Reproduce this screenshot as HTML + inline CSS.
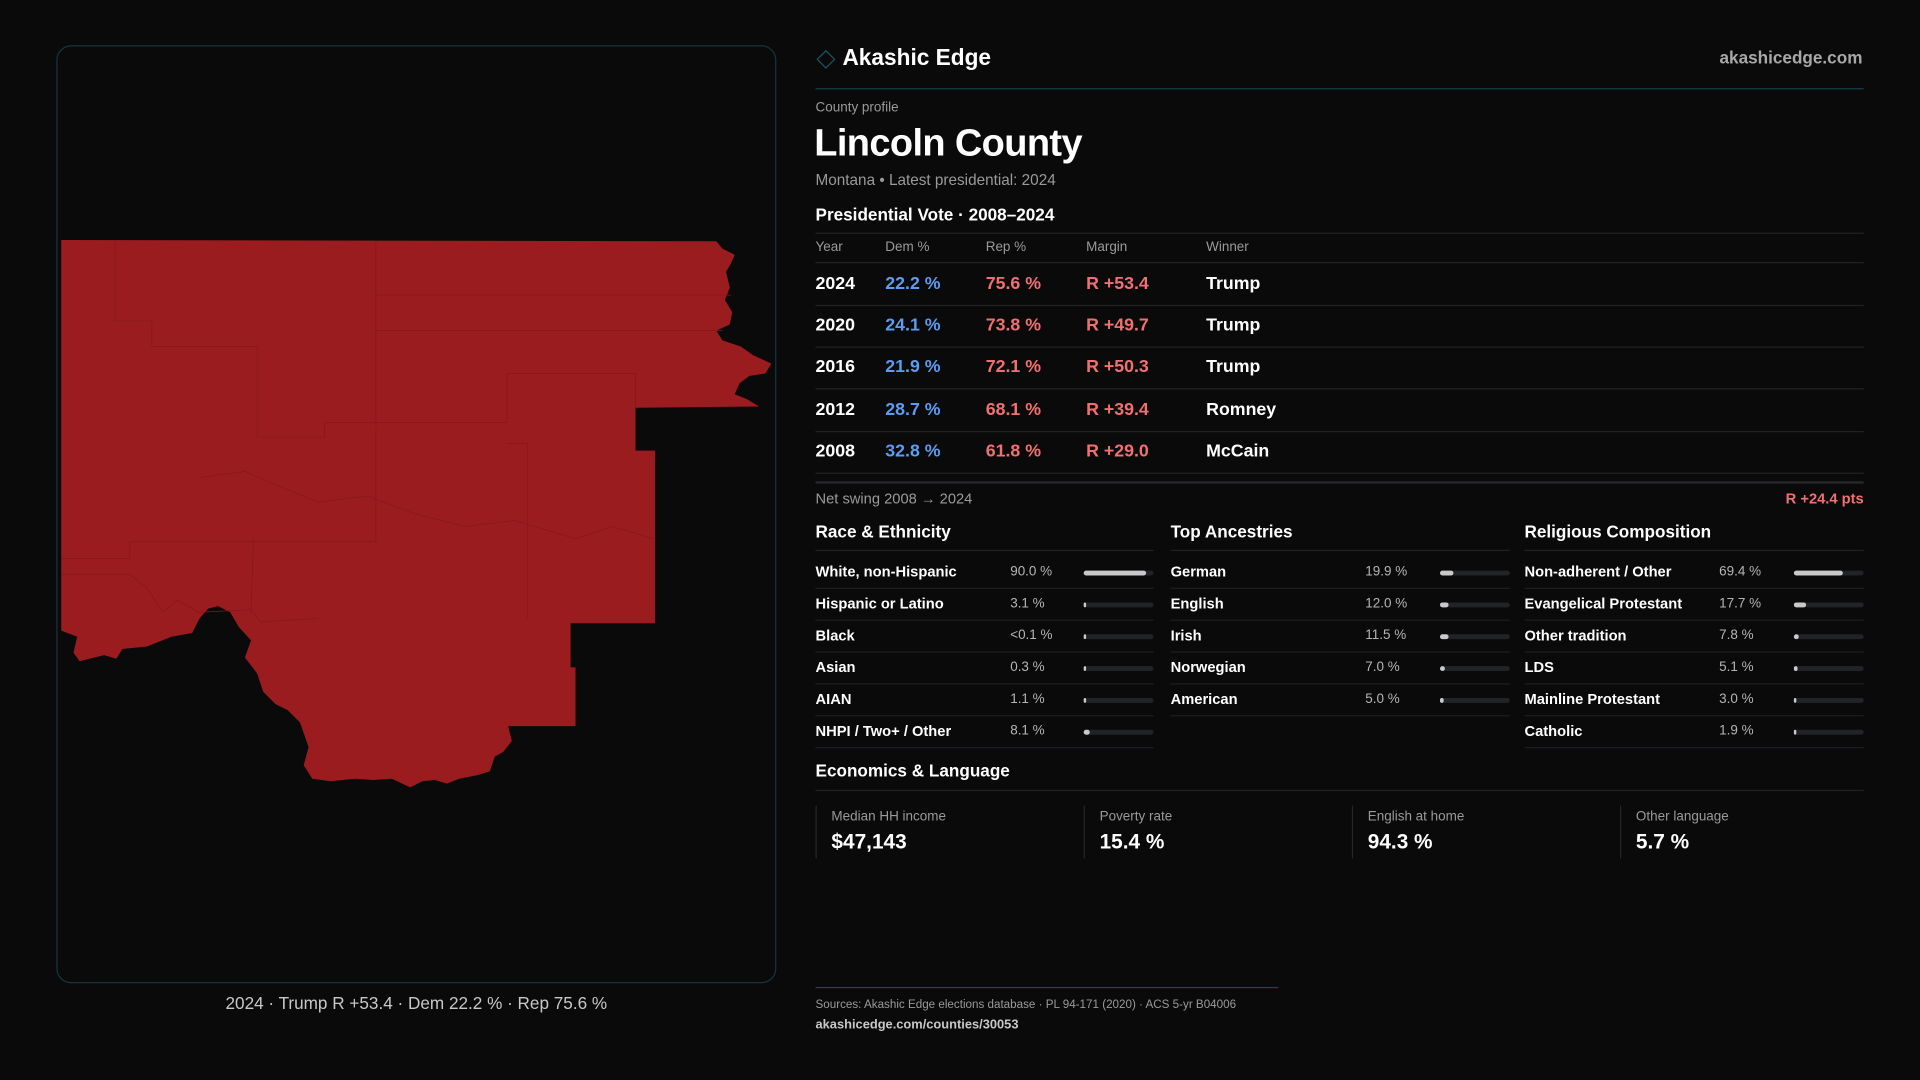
<!DOCTYPE html>
<html><head><meta charset="utf-8">
<style>
html,body{margin:0;padding:0;background:#0a0a0b;overflow:hidden;width:1920px;height:1080px;}
#stage{position:absolute;left:0;top:0;width:1568px;height:882px;transform:scale(1.2244898);transform-origin:0 0;font-family:"Liberation Sans",sans-serif;color:#fff;}
.a{position:absolute;white-space:nowrap;}
.hl{position:absolute;height:1px;background:#222326;}
.gray{color:#9a9a9a;}
.b{font-weight:bold;}
</style></head>
<body>
<div id="stage">
  <div class="a" style="left:46px;top:37px;width:588px;height:766px;border:1px solid #163540;border-radius:12px;box-sizing:border-box;background:#0a0a0b;"></div>
  <svg class="a" style="left:0;top:0" width="640" height="700" viewBox="0 0 640 700">
    <polygon fill="#9b1c1f" points="50,196 585,197 590,203 600,208 597,215 593,222 596,235 592,245 598,255 596,265 585,270 590,278 605,283 615,290 630,297 625,305 612,307 604,313 600,322 610,326 620,332 519,333 519,368 535,368 535,509 466,509 466,545 470,545 470,593 415,593 418,605 411,614 404,618 400,630 390,633 375,636 365,640 355,637 345,638 335,643 320,636 305,637 290,636 270,638 255,636 248,625 252,610 245,590 235,580 225,575 215,565 210,550 200,537 205,523 195,512 188,500 178,495 170,497 163,505 157,517 140,520 120,528 100,530 95,538 85,535 65,540 60,533 63,520 50,515"/>
    <g fill="none" stroke="#85171a" stroke-width="0.6">
      <polyline points="307,197 307,350"/>
      <polyline points="307,241 597,241"/>
      <polyline points="307,270 590,270"/>
      <polyline points="414,340 414,305 519,305 519,333"/>
      <polyline points="94,197 94,262 124,262 124,283 210,283 210,357 265,357 265,345 414,345 414,340"/>
      <polyline points="50,456 106,456 106,442 307,442 307,352"/>
      <polyline points="50,469 106,469 120,480 133,500 145,490 162,500 205,498 213,508 260,505"/>
      <polyline points="414,362 431,362 431,505"/>
      <polyline points="163,390 200,385 230,398 260,410 300,405 340,420 380,430 420,425 470,440 500,430 534,440"/>
      <polyline points="207,440 205,500"/>
    </g>
  </svg>
  <div class="a" style="left:46px;width:588px;top:811px;text-align:center;font-size:14px;color:#c8c8c8;">2024 · Trump R +53.4 · Dem 22.2 % · Rep 75.6 %</div>

  <div class="a" style="left:669px;top:43px;width:9px;height:9px;border:1px solid #1c5563;transform:rotate(45deg);"></div>
  <div class="a b" style="left:688px;top:36px;font-size:18.5px;">Akashic Edge</div>
  <div class="a b" style="right:47px;top:39px;font-size:14px;color:#a8a8a8;">akashicedge.com</div>
  <div class="hl" style="left:666px;width:856px;top:72px;background:#17414b;"></div>

  <div class="a gray" style="left:666px;top:82px;font-size:11px;">County profile</div>
  <div class="a b" style="left:665px;top:99px;font-size:31px;letter-spacing:-0.5px;">Lincoln County</div>
  <div class="a gray" style="left:666px;top:140px;font-size:12.5px;">Montana • Latest presidential: 2024</div>
  <div class="a b" style="left:666px;top:167px;font-size:14px;">Presidential Vote · 2008–2024</div>
  <div class="hl" style="left:666px;width:856px;top:190px;"></div>
  <div class="a gray" style="left:666px;top:196px;font-size:11px;">Year</div>
  <div class="a gray" style="left:723px;top:196px;font-size:11px;">Dem %</div>
  <div class="a gray" style="left:805px;top:196px;font-size:11px;">Rep %</div>
  <div class="a gray" style="left:887px;top:196px;font-size:11px;">Margin</div>
  <div class="a gray" style="left:985px;top:196px;font-size:11px;">Winner</div>
  <div class="hl" style="left:666px;width:856px;top:214px;"></div>
  <div id="voteRows"></div>
  <div class="hl" style="left:666px;width:856px;top:393px;height:2px;background:#26272a;"></div>
  <div class="a gray" style="left:666px;top:400px;font-size:12px;">Net swing 2008 → 2024</div>
  <div class="a b" style="right:46px;top:400px;font-size:12px;color:#f07070;">R +24.4 pts</div>

  <div id="demo"></div>

  <div class="a b" style="left:666px;top:621px;font-size:14px;">Economics &amp; Language</div>
  <div class="hl" style="left:666px;width:856px;top:645px;"></div>
  <div id="econ"></div>

  <div class="hl" style="left:666px;width:378px;top:806px;background:#1c4650;"></div>
  <div class="a gray" style="left:666px;top:815px;font-size:9.5px;">Sources: Akashic Edge elections database · PL 94-171 (2020) · ACS 5-yr B04006</div>
  <div class="a b" style="left:666px;top:831px;font-size:10.5px;color:#c8c8c8;">akashicedge.com/counties/30053</div>
</div>
<script>
const years=[2024,2020,2016,2012,2008];
const demPct=[22.2,24.1,21.9,28.7,32.8];
const repPct=[75.6,73.8,72.1,68.1,61.8];
const margins=[53.4,49.7,50.3,39.4,29.0];
const winners=["Trump","Trump","Trump","Romney","McCain"];

const raceLabels=["White, non-Hispanic","Hispanic or Latino","Black","Asian","AIAN","NHPI / Two+ / Other"];
const raceValues=[90.0,3.1,0.05,0.3,1.1,8.1];
const raceText=["90.0 %","3.1 %","<0.1 %","0.3 %","1.1 %","8.1 %"];
const ancLabels=["German","English","Irish","Norwegian","American"];
const ancValues=[19.9,12.0,11.5,7.0,5.0];
const relLabels=["Non-adherent / Other","Evangelical Protestant","Other tradition","LDS","Mainline Protestant","Catholic"];
const relValues=[69.4,17.7,7.8,5.1,3.0,1.9];

const econLabels=["Median HH income","Poverty rate","English at home","Other language"];
const econValues=["$47,143","15.4 %","94.3 %","5.7 %"];

function div(parent,css,text){const d=document.createElement('div');d.className='a';d.style.cssText=css;if(text!==undefined)d.textContent=text;parent.appendChild(d);return d;}

const vr=document.getElementById('voteRows');
years.forEach((y,i)=>{
  const top=216+i*34.2;
  const row=div(vr,`left:666px;top:${top}px;width:856px;height:33px;border-bottom:1px solid #222326;font-size:14.5px;font-weight:bold;`);
  
  
  const c1=div(row,'left:0;top:8px;color:#fff;',String(y));
  
  
  const c2=div(row,'left:57px;top:8px;color:#5b9cf0;',demPct[i].toFixed(1)+' %');
  
  
  const c3=div(row,'left:139px;top:8px;color:#f07070;',repPct[i].toFixed(1)+' %');
  
  
  const c4=div(row,'left:221px;top:8px;color:#f07070;','R +'+margins[i].toFixed(1));
  
  
  const c5=div(row,'left:319px;top:8px;color:#fff;',winners[i]);
  
  
});

const demo=document.getElementById('demo');
function column(x,w,title,labels,values,texts,name){
  const h=div(demo,`left:${x}px;top:426px;font-size:14px;font-weight:bold;`,title);
  
  
  const l=div(demo,`left:${x}px;top:449px;width:${w}px;height:1px;background:#222326;`);
  
  
  labels.forEach((lab,i)=>{
    const top=455+i*26;
    const r=div(demo,`left:${x}px;top:${top}px;width:${w}px;height:25px;border-bottom:1px solid #1e1f22;`);
    
    
    const t=div(r,'left:0;top:5px;font-size:12px;font-weight:bold;color:#fff;',lab);
    
    
    const v=div(r,'left:159px;top:6px;font-size:11px;color:#b5b5b5;',texts?texts[i]:values[i].toFixed(1)+' %');
    
    
    const tr=div(r,`left:${w-57}px;top:11px;width:57px;height:4px;background:#222326;border-radius:2px;`);
    
    
    const f=div(tr,`left:0;top:0;height:4px;width:${Math.max(1.5,57*values[i]/100)}px;background:#c9c9c9;border-radius:2px;`);
    
    
  });
}
column(666,276,"Race & Ethnicity",raceLabels,raceValues,raceText,"race");
column(956,277,"Top Ancestries",ancLabels,ancValues,null,"ancestry");
column(1245,277,"Religious Composition",relLabels,relValues,null,"religion");

const econ=document.getElementById('econ');
econLabels.forEach((lab,i)=>{
  const x=666+i*219;
  const c=div(econ,`left:${x}px;top:658px;width:210px;height:43px;border-left:1px solid #26272a;`);
  
  
  const l=div(c,'left:12px;top:3px;font-size:11px;color:#9a9a9a;',lab);
  
  
  const v=div(c,'left:12px;top:20px;font-size:17px;font-weight:bold;color:#fff;',econValues[i]);
  
  
});
</script>
</body></html>
